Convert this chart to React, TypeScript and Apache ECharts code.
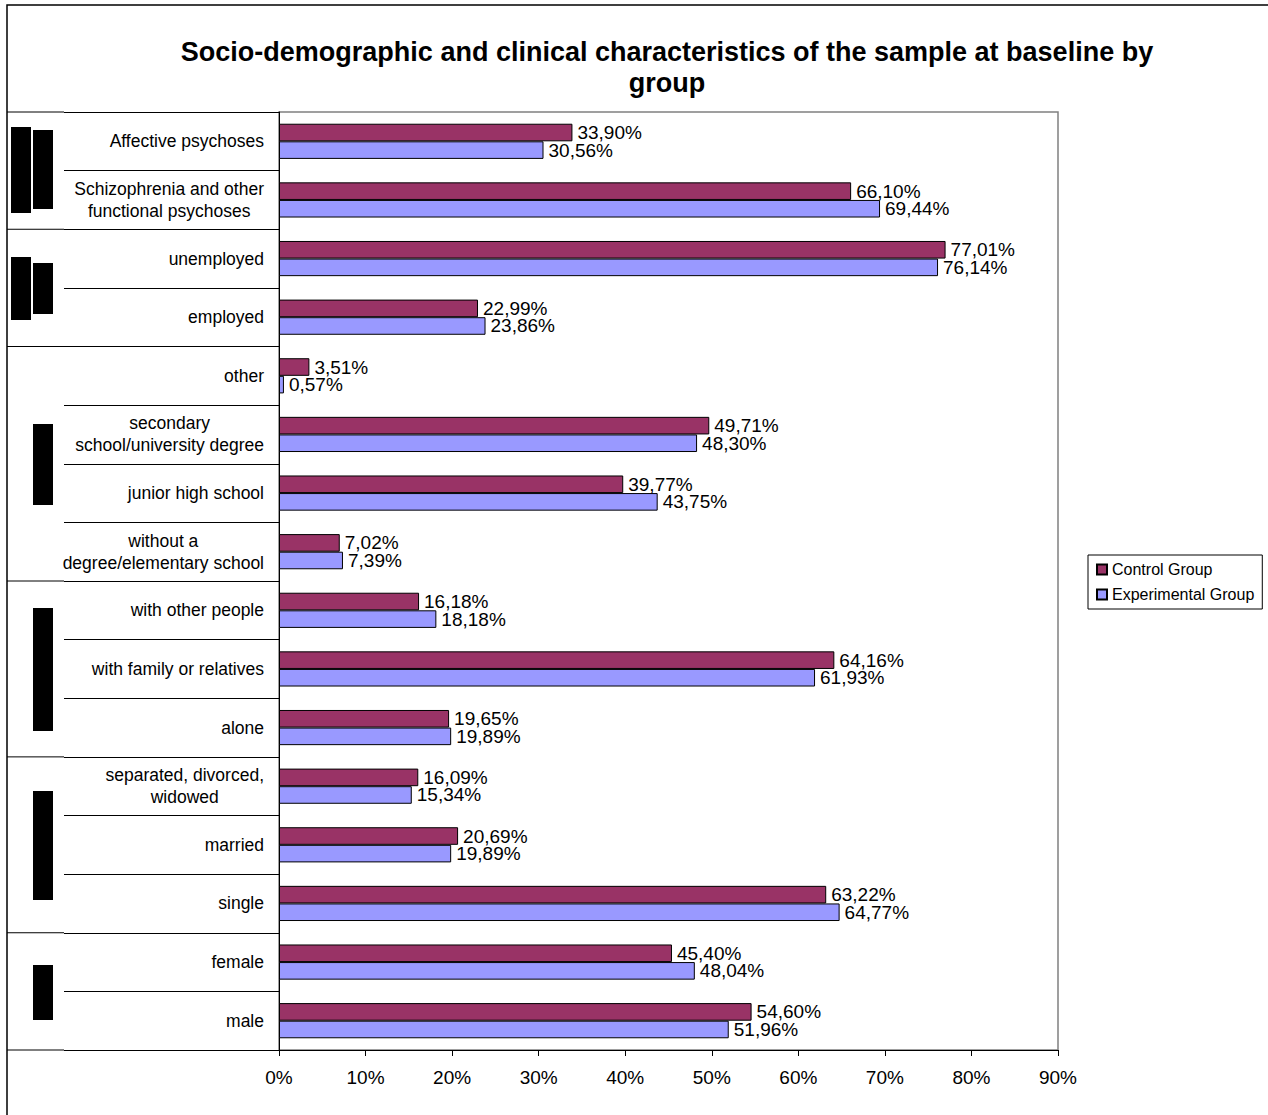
import React, { useEffect, useRef } from "react";
import * as echarts from "echarts";

// Categories listed bottom -> top (ECharts category y-axis starts at the bottom)
const categories = [
  "male",
  "female",
  "single",
  "married",
  "separated, divorced,\nwidowed",
  "alone",
  "with family or relatives",
  "with other people",
  "without a\ndegree/elementary school",
  "junior high school",
  "secondary\nschool/university degree",
  "other",
  "employed",
  "unemployed",
  "Schizophrenia and other\nfunctional psychoses",
  "Affective psychoses",
];

const controlGroup = [
  54.6, 45.4, 63.22, 20.69, 16.09, 19.65, 64.16, 16.18, 7.02, 39.77, 49.71, 3.51,
  22.99, 77.01, 66.1, 33.9,
];

const experimentalGroup = [
  51.96, 48.04, 64.77, 19.89, 15.34, 19.89, 61.93, 18.18, 7.39, 43.75, 48.3, 0.57,
  23.86, 76.14, 69.44, 30.56,
];

const seriesNames = ["Control Group", "Experimental Group"];
const xMin = 0;
const xMax = 90;
const xInterval = 10;

const titleLines = [
  "Socio-demographic and clinical characteristics of the sample at baseline by",
  "group",
];

// row boundaries (counted from the top) where a category group ends
const groupBoundaries = [0, 2, 4, 8, 11, 14, 16];

const FONT = '"Liberation Sans", Arial, sans-serif';
const W = 1268;
const H = 1115;
const G_LEFT = 279;
const G_TOP = 112;
const G_RIGHT = 1058;
const G_BOTTOM = 1050;

const redactions = [
  [11, 127, 20, 86],
  [33, 130, 20, 79],
  [11, 257, 20, 63],
  [33, 263, 20, 51],
  [33, 424, 20, 81],
  [33, 608, 20, 123],
  [33, 791, 20, 109],
  [33, 965, 20, 55],
];

const fmtPct = (v: number) => `${v.toFixed(2).replace(".", ",")}%`;

export default function App() {
  const ref = useRef<HTMLDivElement>(null);

  useEffect(() => {
    if (!ref.current) return;
    const chart = echarts.init(ref.current, null, { renderer: "svg" });
    const rowH = (G_BOTTOM - G_TOP) / categories.length;

    const graphics: any[] = [
      {
        type: "rect",
        shape: { x: 7, y: 5, width: W, height: H },
        style: { fill: "none", stroke: "#000", lineWidth: 1.5 },
        silent: true,
        z: 100,
      },
      ...titleLines.map((t, i) => ({
        type: "text",
        x: 667,
        y: 52 + i * 31,
        style: {
          text: t,
          font: `bold 27px ${FONT}`,
          fill: "#000",
          textAlign: "center",
          textVerticalAlign: "middle",
        },
      })),
      ...groupBoundaries.map((b) => ({
        type: "line",
        shape: { x1: 7, y1: G_TOP + b * rowH, x2: 64, y2: G_TOP + b * rowH },
        style: { stroke: "#000", lineWidth: 1 },
        silent: true,
      })),
      ...redactions.map(([x, y, w, h]) => ({
        type: "rect",
        shape: { x, y, width: w, height: h },
        style: { fill: "#000" },
        silent: true,
      })),
    ];

    const labelStyle = {
      show: true,
      position: "right",
      distance: 5,
      fontSize: 19,
      lineHeight: 17,
      fontFamily: FONT,
      color: "#000",
      formatter: (p: any) => fmtPct(p.value),
    };

    chart.setOption({
      animation: false,
      backgroundColor: "#fff",
      grid: {
        left: G_LEFT,
        top: G_TOP,
        width: G_RIGHT - G_LEFT,
        height: G_BOTTOM - G_TOP,
        show: true,
        borderColor: "#808080",
        borderWidth: 1.5,
        containLabel: false,
      },
      legend: {
        data: seriesNames,
        orient: "vertical",
        left: 1088,
        top: 555,
        icon: "rect",
        itemWidth: 10,
        itemHeight: 10,
        itemGap: 4,
        padding: [4, 8, 4, 8],
        borderColor: "#000",
        borderWidth: 1,
        textStyle: { fontSize: 16, fontFamily: FONT, color: "#000", lineHeight: 21 },
      },
      xAxis: {
        type: "value",
        min: xMin,
        max: xMax,
        interval: xInterval,
        splitLine: { show: false },
        axisLine: { show: true, lineStyle: { color: "#000", width: 1 } },
        axisTick: { show: true, length: 6, lineStyle: { color: "#000" } },
        axisLabel: {
          formatter: "{value}%",
          fontSize: 19,
          fontFamily: FONT,
          color: "#000",
          margin: 18,
        },
      },
      yAxis: {
        type: "category",
        data: categories,
        axisLine: { show: true, lineStyle: { color: "#000", width: 1 } },
        axisTick: {
          show: true,
          length: G_LEFT - 64,
          lineStyle: { color: "#000", width: 1 },
        },
        axisLabel: {
          margin: 15,
          fontSize: 17.5,
          fontFamily: FONT,
          color: "#000",
          lineHeight: 22,
          formatter: (v: string) => {
            const lines = v.split("\n");
            return lines.length > 1 ? lines.map((l) => `{c|${l}}`).join("\n") : v;
          },
          rich: {
            c: {
              align: "center",
              fontSize: 17.5,
              fontFamily: FONT,
              color: "#000",
              lineHeight: 22,
            },
          },
        },
      },
      series: [
        {
          name: seriesNames[0],
          type: "bar",
          data: controlGroup,
          barGap: "0%",
          barCategoryGap: "40%",
          itemStyle: { color: "#993366", borderColor: "#000", borderWidth: 1 },
          label: labelStyle,
        },
        {
          name: seriesNames[1],
          type: "bar",
          data: experimentalGroup,
          barGap: "0%",
          barCategoryGap: "40%",
          itemStyle: { color: "#9999FF", borderColor: "#000", borderWidth: 1 },
          label: labelStyle,
        },
      ],
      graphic: graphics,
    });

    return () => chart.dispose();
  }, []);

  return (
    <div
      ref={ref}
      style={{ position: "absolute", left: 0, top: 0, width: W, height: H }}
    />
  );
}
